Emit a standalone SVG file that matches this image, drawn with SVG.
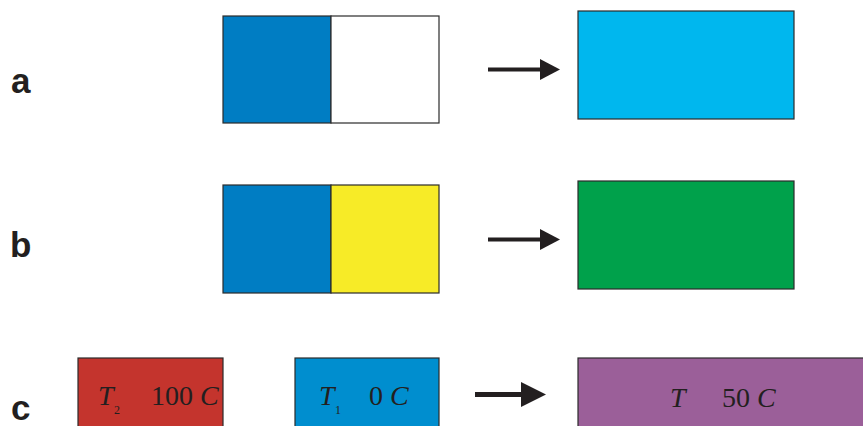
<svg xmlns="http://www.w3.org/2000/svg" width="863" height="426" viewBox="0 0 863 426">
<style>
.lbl{font-family:"Liberation Sans",Arial,sans-serif;font-weight:bold;font-size:35px;fill:#231f20}
.box{stroke:#2b2b2b;stroke-width:1.2}
.t{font-family:"Liberation Serif","Times New Roman",serif;font-size:28px;fill:#231f20}
.i{font-style:italic}
.sub{font-size:12px}
.arr{stroke:#231f20;fill:none}
</style>
<rect width="863" height="426" fill="#ffffff"/>
<g id="label-a"><text class="lbl" x="11" y="93">a</text></g>
<g id="label-b"><text class="lbl" x="10" y="257">b</text></g>
<g id="label-c"><text class="lbl" x="11" y="420">c</text></g>
<g id="a-left">
<rect class="box" x="223" y="16" width="108" height="107" fill="#007dc3"/>
<rect class="box" x="331" y="16" width="108" height="107" fill="#ffffff"/>
</g>
<g id="a-right"><rect class="box" x="578" y="11" width="216" height="108" fill="#00b7ee"/></g>
<g id="b-left">
<rect class="box" x="223" y="185" width="108" height="108" fill="#007dc3"/>
<rect class="box" x="331" y="185" width="108" height="108" fill="#f7eb27"/>
</g>
<g id="b-right"><rect class="box" x="578" y="181" width="216" height="108" fill="#00a14b"/></g>
<g id="c-hot">
<rect class="box" x="78" y="358" width="145" height="80" fill="#c4342d"/>
<text class="t" x="98" y="405"><tspan class="i">T</tspan></text>
<text class="t sub" x="114" y="414">2</text>
<text class="t" x="151" y="405">100 <tspan class="i">C</tspan></text>
</g>
<g id="c-cold">
<rect class="box" x="295" y="358" width="144" height="80" fill="#008ecf"/>
<text class="t" x="319" y="405"><tspan class="i">T</tspan></text>
<text class="t sub" x="335" y="414">1</text>
<text class="t" x="369" y="405">0 <tspan class="i">C</tspan></text>
</g>
<g id="c-mix">
<rect class="box" x="578" y="358" width="300" height="80" fill="#9b5f99"/>
<text class="t" x="670" y="407"><tspan class="i">T</tspan></text>
<text class="t" x="722" y="407">50 <tspan class="i">C</tspan></text>
</g>
<g id="connectors">
<line class="arr" x1="488" y1="69.5" x2="542" y2="69.5" stroke-width="4"/>
<polygon points="540,59 560,69.5 540,80" fill="#231f20"/>
<line class="arr" x1="488" y1="239.5" x2="542" y2="239.5" stroke-width="4"/>
<polygon points="540,229 560,239.5 540,250" fill="#231f20"/>
<line class="arr" x1="475" y1="394.5" x2="524" y2="394.5" stroke-width="5"/>
<polygon points="521,382 546,394.5 521,407" fill="#231f20"/>
</g>
</svg>
